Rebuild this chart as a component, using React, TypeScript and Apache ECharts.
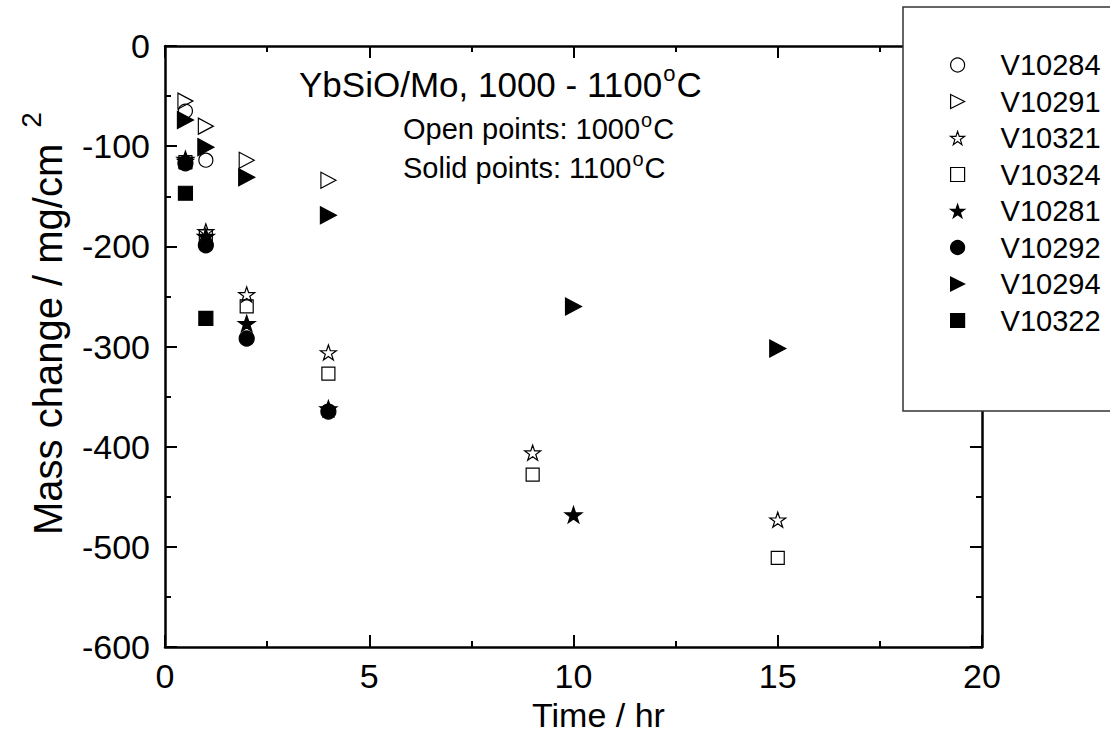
import React, { useEffect, useRef } from "react";
import * as echarts from "echarts";

const FONT = "'Liberation Sans', Arial, Helvetica, sans-serif";

// Tick values
const xTicks = [0, 5, 10, 15, 20];
const yTicks = [-600, -500, -400, -300, -200, -100, 0];

// Series names (legend order)
const seriesNames = ["V10284", "V10291", "V10321", "V10324", "V10281", "V10292", "V10294", "V10322"];

// Time (hr) and mass change (mg/cm2) per sample
const tV10284 = [0.5, 1];
const mV10284 = [-65, -114];
const tV10291 = [0.5, 1, 2, 4];
const mV10291 = [-55, -80, -114, -134];
const tV10321 = [0.5, 1, 2, 4, 9, 15];
const mV10321 = [-115, -185, -248, -306, -406, -473];
const tV10324 = [0.5, 1, 2, 4, 9, 15];
const mV10324 = [-116, -190, -260, -327, -428, -511];
const tV10281 = [0.5, 1, 2, 4, 10];
const mV10281 = [-113, -190, -277, -362, -468];
const tV10292 = [0.5, 1, 2, 4];
const mV10292 = [-117, -199, -292, -365];
const tV10294 = [0.5, 1, 2, 4, 10, 15];
const mV10294 = [-74, -101, -131, -169, -260, -302];
const tV10322 = [0.5, 1];
const mV10322 = [-147, -272];

const times = [tV10284, tV10291, tV10321, tV10324, tV10281, tV10292, tV10294, tV10322];
const masses = [mV10284, mV10291, mV10321, mV10324, mV10281, mV10292, mV10294, mV10322];

function makeStar(): string {
  let d = "";
  for (let i = 0; i < 10; i++) {
    const r = i % 2 === 0 ? 10 : 3.9;
    const a = ((-90 + i * 36) * Math.PI) / 180;
    const x = 10 + r * Math.cos(a);
    const y = 10 + r * Math.sin(a);
    d += (i === 0 ? "M" : "L") + x.toFixed(2) + "," + y.toFixed(2);
  }
  return "path://" + d + "Z";
}
const STAR = makeStar();
const TRI = "path://M0,0L15,7.5L0,15Z";

const styles = [
  { symbol: "circle", size: 14, fill: "transparent" },
  { symbol: TRI, size: [15, 16], fill: "transparent" },
  { symbol: STAR, size: [16, 15], fill: "transparent" },
  { symbol: "rect", size: 13, fill: "transparent" },
  { symbol: STAR, size: [17, 16], fill: "#000" },
  { symbol: "circle", size: 15, fill: "#000" },
  { symbol: TRI, size: [16, 17], fill: "#000" },
  { symbol: "rect", size: 14, fill: "#000" },
];

const axisLine = { show: true, onZero: false, lineStyle: { color: "#000", width: 2.5 } };
const axisTick = { show: true, inside: true, length: 12, lineStyle: { color: "#000", width: 2 } };
const minorTick = { show: true, splitNumber: 2, length: 6, lineStyle: { color: "#000", width: 2 } };

let measureCtx: CanvasRenderingContext2D | null = null;
function measure(text: string, size: number): number {
  if (!measureCtx) measureCtx = document.createElement("canvas").getContext("2d");
  if (!measureCtx) return text.length * size * 0.55;
  measureCtx.font = `${size}px ${FONT}`;
  return measureCtx.measureText(text).width;
}

function txt(text: string, x: number, y: number, size: number, rotation = 0): any {
  return {
    type: "text",
    z: 6,
    x,
    y,
    rotation,
    style: {
      text,
      fontSize: size,
      fontFamily: FONT,
      fill: "#000",
      align: "left",
      verticalAlign: "middle",
    },
  };
}

// Horizontal text "pre" + superscript "o" + "post"
function supLine(pre: string, sup: string, post: string, x: number, y: number, size: number, supSize: number, supRise: number): any[] {
  const w1 = measure(pre, size);
  const w2 = measure(sup, supSize);
  return [
    txt(pre, x, y, size),
    txt(sup, x + w1 + 1, y - supRise, supSize),
    txt(post, x + w1 + 1 + w2 + 1, y, size),
  ];
}

// Vertical (rotated 90deg) y-axis title with superscript
function yTitle(main: string, sup: string, x: number, yStart: number, size: number, supSize: number, supX: number, gap: number): any[] {
  const w1 = measure(main, size);
  return [
    txt(main, x, yStart, size, Math.PI / 2),
    txt(sup, supX, yStart - w1 - gap, supSize, Math.PI / 2),
  ];
}

export default function App() {
  const ref = useRef<HTMLDivElement>(null);
  useEffect(() => {
    if (!ref.current) return;
    const chart = echarts.init(ref.current, null, { renderer: "svg" });
    const series = seriesNames.map((name, i) => ({
      name,
      type: "scatter",
      xAxisIndex: 0,
      yAxisIndex: 0,
      symbol: styles[i].symbol,
      symbolSize: styles[i].size,
      itemStyle: { color: styles[i].fill, borderColor: "#000", borderWidth: 1.2, opacity: 1 },
      emphasis: { disabled: true },
      data: times[i].map((t, j) => [t, masses[i][j]]),
    }));
    const option: any = {
      animation: false,
      backgroundColor: "#fff",
      grid: { left: 165, top: 46, right: 128, bottom: 92, containLabel: false },
      xAxis: [
        {
          type: "value",
          position: "bottom",
          min: xTicks[0],
          max: xTicks[xTicks.length - 1],
          interval: 5,
          axisLine,
          axisTick,
          minorTick,
          splitLine: { show: false },
          axisLabel: { fontSize: 34, color: "#000", fontFamily: FONT, margin: 12 },
          name: "Time / hr",
          nameLocation: "middle",
          nameGap: 43,
          nameTextStyle: { fontSize: 34, color: "#000", fontFamily: FONT, padding: [0, 0, 0, 50] },
        },
        {
          type: "value",
          position: "top",
          min: xTicks[0],
          max: xTicks[xTicks.length - 1],
          interval: 5,
          axisLine,
          axisTick,
          minorTick,
          splitLine: { show: false },
          axisLabel: { show: false },
        },
      ],
      yAxis: [
        {
          type: "value",
          position: "left",
          min: yTicks[0],
          max: yTicks[yTicks.length - 1],
          interval: 100,
          axisLine,
          axisTick,
          minorTick,
          splitLine: { show: false },
          axisLabel: { fontSize: 34, color: "#000", fontFamily: FONT, margin: 15 },
        },
        {
          type: "value",
          position: "right",
          min: yTicks[0],
          max: yTicks[yTicks.length - 1],
          interval: 100,
          axisLine,
          axisTick,
          minorTick,
          splitLine: { show: false },
          axisLabel: { show: false },
        },
      ],
      legend: {
        orient: "vertical",
        left: 950,
        top: 50,
        padding: 0,
        itemWidth: 14,
        itemHeight: 14,
        itemGap: 6.5,
        selectedMode: false,
        z: 6,
        itemStyle: { borderWidth: 1.2 },
        textStyle: { fontSize: 29, lineHeight: 30, color: "#000", fontFamily: FONT, padding: [0, 0, 0, 31] },
        data: seriesNames,
      },
      graphic: [
        {
          type: "rect",
          z: 5,
          shape: { x: 903, y: 7, width: 230, height: 404 },
          style: { fill: "#fff", stroke: "#333", lineWidth: 1.5 },
        },
        ...supLine("YbSiO/Mo, 1000 - 1100", "o", "C", 299, 84.5, 35, 22, 10.8),
        ...supLine("Open points: 1000", "o", "C", 403, 128.6, 29, 20, 9.1),
        ...supLine("Solid points: 1100", "o", "C", 403, 168.3, 29, 20, 9.1),
        ...yTitle("Mass change / mg/cm", "2", 48, 535, 40, 28, 31, 16),
      ],
      series,
    };
    chart.setOption(option);
    return () => chart.dispose();
  }, []);
  return (
    <div
      ref={ref}
      style={{ position: "fixed", left: 0, top: 0, width: 1110, height: 739, background: "#fff" }}
    />
  );
}
